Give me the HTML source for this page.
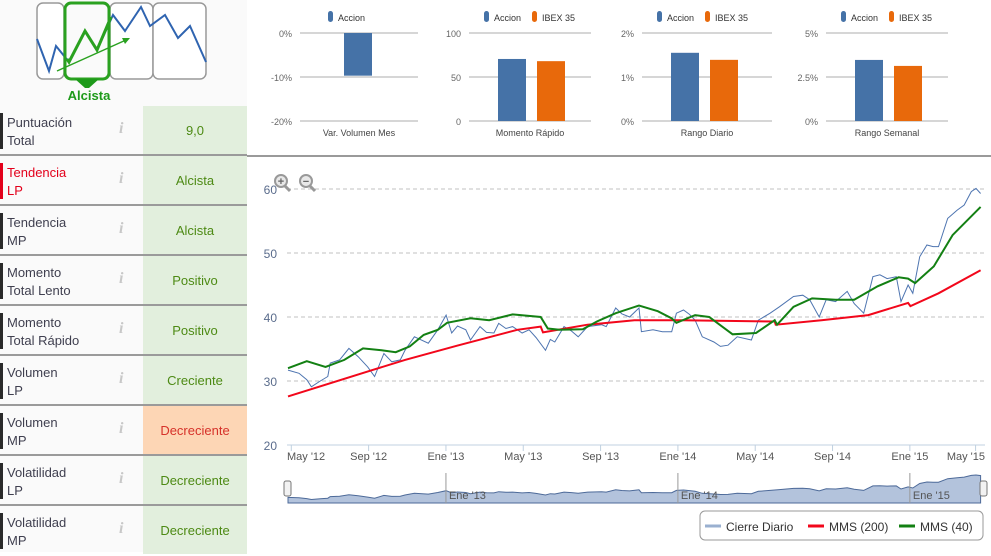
<!DOCTYPE html>
<html><head><meta charset="utf-8">
<style>
body{margin:0;width:991px;height:552px;overflow:hidden;background:#fff;font-family:"Liberation Sans",sans-serif;position:relative}
.abs{position:absolute}
.row{position:absolute;left:0;width:247px;height:50px;border-bottom:2px solid #9a9a9a;box-sizing:border-box}
.lbl{position:absolute;left:7px;top:8px;font-size:13px;line-height:18px;color:#3f3f4f}
.bar{position:absolute;left:0;top:7px;width:3px;height:36px;background:#2a2a2a}
.inf{position:absolute;left:119px;top:14px;font-family:"Liberation Serif",serif;font-style:italic;font-weight:bold;font-size:16px;color:#c8c8c8}
.val{position:absolute;left:143px;top:0;width:104px;height:48px;background:#e2efdd;color:#4d8a14;font-size:13px;text-align:center;line-height:50px}
</style></head><body>
<div class="abs" style="left:0;top:0;width:247px;height:552px;background:#fafafa"></div>
<svg class="abs" style="left:0;top:0" width="247" height="106">
<rect x="37" y="3" width="27" height="76" rx="6" fill="#fff" stroke="#999" stroke-width="1.5"/>
<rect x="110" y="3" width="43" height="76" rx="6" fill="#fff" stroke="#999" stroke-width="1.5"/>
<rect x="153" y="3" width="53" height="76" rx="6" fill="#fff" stroke="#999" stroke-width="1.5"/>
<polyline points="37,39 49,71 56,46 69,62 85,31 97,50 113,15 125,31 141,7 150,26 165,15 178,38 190,26 206,62" fill="none" stroke="#2f64b0" stroke-width="2"/>
<rect x="65" y="3" width="44" height="76" rx="6" fill="none" stroke="#2aa120" stroke-width="3"/>
<polyline points="67,59 69,62 85,31 97,50 111,17" fill="none" stroke="#2aa120" stroke-width="3"/>
<line x1="57" y1="71" x2="126" y2="40" stroke="#2aa120" stroke-width="1.5"/>
<polygon points="130,38 122,38 125,44" fill="#2aa120"/>
<polygon points="75,79 99,79 89,88 85,88" fill="#1e9a1a"/>
<text x="89" y="100" text-anchor="middle" font-size="13" font-weight="bold" fill="#1e9a1a">Alcista</text>
</svg>
<div class="row" style="top:106px"><div class="bar"></div><div class="lbl">Puntuación<br>Total</div><div class="inf">i</div><div class="val">9,0</div></div>
<div class="row" style="top:156px"><div class="bar" style="background:#e3001b"></div><div class="lbl" style="color:#e3001b">Tendencia<br>LP</div><div class="inf">i</div><div class="val">Alcista</div></div>
<div class="row" style="top:206px"><div class="bar"></div><div class="lbl">Tendencia<br>MP</div><div class="inf">i</div><div class="val">Alcista</div></div>
<div class="row" style="top:256px"><div class="bar"></div><div class="lbl">Momento<br>Total Lento</div><div class="inf">i</div><div class="val">Positivo</div></div>
<div class="row" style="top:306px"><div class="bar"></div><div class="lbl">Momento<br>Total Rápido</div><div class="inf">i</div><div class="val">Positivo</div></div>
<div class="row" style="top:356px"><div class="bar"></div><div class="lbl">Volumen<br>LP</div><div class="inf">i</div><div class="val">Creciente</div></div>
<div class="row" style="top:406px"><div class="bar"></div><div class="lbl">Volumen<br>MP</div><div class="inf">i</div><div class="val" style="background:#fdd6b5;color:#d6322a">Decreciente</div></div>
<div class="row" style="top:456px"><div class="bar"></div><div class="lbl">Volatilidad<br>LP</div><div class="inf">i</div><div class="val">Decreciente</div></div>
<div class="row" style="top:506px;border-bottom:none"><div class="bar"></div><div class="lbl">Volatilidad<br>MP</div><div class="inf">i</div><div class="val">Decreciente</div></div>
<div class="abs" style="left:247px;top:155px;width:744px;height:2px;background:#9a9a9a"></div>

<svg id="mini" class="abs" style="left:0;top:0" width="991" height="155"></svg>
<svg id="main" class="abs" style="left:0;top:0" width="991" height="552"></svg>

<script>
// ---- mini chart data ----
const miniTitles=["Var. Volumen Mes","Momento Rápido","Rango Diario","Rango Semanal"];
const miniAccion=[-9.7,70.5,1.55,3.47];
const miniIbex=[null,68,1.39,3.13];
const miniTicks=[["0%","-10%","-20%"],["100","50","0"],["2%","1%","0%"],["5%","2.5%","0%"]];
const miniMax=[0,100,2,5];
const miniMin=[-20,0,0,0];
// ---- main chart data ----
const xTickLabels=["May '12","Sep '12","Ene '13","May '13","Sep '13","Ene '14","May '14","Sep '14","Ene '15","May '15"];
const xTickMonths=[0,4,8,12,16,20,24,28,32,35.4];
const yTicks=[20,30,40,50,60];
const closeT=[-0.17,0.4,0.8,1.04,1.5,1.89,2.01,2.5,2.98,3.46,3.95,4.31,4.79,5.2,5.64,5.88,6.37,7.09,7.58,8.01,8.3,8.6,9.03,9.27,9.76,10.1,10.48,10.73,11.1,11.45,11.94,12.3,12.66,13.15,13.4,13.63,14.11,14.5,14.84,15.33,16.05,16.29,16.78,17.1,17.5,17.99,18.11,18.71,19.2,19.68,19.92,20.29,20.6,20.89,21.26,21.86,22.2,22.59,23.07,23.8,24.16,24.77,25.25,25.98,26.46,26.82,27.31,27.67,28.16,28.76,29.12,29.61,30.09,30.45,30.82,31.3,31.54,31.91,32.15,32.51,32.88,33.2,33.48,33.96,34.45,34.81,35.18,35.42,35.66];
const closeV=[31.7,31.2,30.2,29.1,30.0,30.7,32.8,33.3,35.1,33.8,32.2,30.7,34.3,33.0,33.3,34.8,36.9,35.9,38.0,40.3,37.5,38.6,38.0,36.4,38.5,37.6,37.5,39.0,38.2,38.5,37.5,38.0,36.8,34.8,36.5,36.1,38.5,37.8,36.9,38.5,38.8,38.5,41.4,40.5,40.0,41.4,37.7,38.0,37.7,37.7,40.6,41.1,40.4,39.5,36.9,36.1,35.4,35.6,36.9,36.4,39.5,40.6,41.6,43.2,43.4,42.7,40.0,42.7,42.4,44.0,42.1,40.6,46.3,46.6,46.0,46.3,42.4,45.0,43.7,49.4,51.25,51.0,51.0,55.4,56.7,57.5,59.6,60.1,59.3];
const mms200T=[-0.17,4.19,5.88,8.55,11.69,12.9,13.02,15.33,17.75,20.17,25.01,25.06,27.43,29.85,31.91,32.03,33.48,35.66];
const mms200V=[27.6,31.7,33.3,35.5,38.0,38.5,37.6,38.8,39.5,39.5,39.3,38.8,39.5,40.3,42.2,41.7,43.7,47.3];
const mms40T=[-0.17,0.8,1.77,2.74,3.71,4.67,5.4,6.13,6.85,7.58,8.06,9.27,10.24,11.45,12.9,13.27,13.87,15.08,15.81,16.78,17.99,18.96,19.68,19.92,20.89,21.62,22.83,24.04,25.01,25.13,25.98,26.94,28.16,29.12,30.33,31.42,31.91,32.27,33.24,34.21,35.66];
const mms40V=[32.0,33.1,32.2,33.3,35.1,34.8,34.5,35.4,37.2,38.0,39.1,39.8,39.5,40.4,40.0,38.2,38.0,38.1,39.3,40.6,41.8,40.9,39.8,39.1,40.3,40.0,37.3,37.5,39.5,38.8,41.6,42.9,42.7,42.7,44.8,46.2,46.0,45.3,47.9,52.8,57.2];
const navTicksT=[8,20,32];
const navTickLabels=["Ene '13","Ene '14","Ene '15"];

const NS="http://www.w3.org/2000/svg";
function mk(p,tag,attrs,txt){const e=document.createElementNS(NS,tag);for(const k in attrs)e.setAttribute(k,attrs[k]);if(txt!==undefined)e.textContent=txt;p.appendChild(e);return e;}

// mini charts
const mini=document.getElementById('mini');
const gx=[300,469,642,826], gw=[118,122,130,122];
const BLUE="#4572a7", ORANGE="#e8690b";
for(let i=0;i<4;i++){
  const x0=gx[i], top=33, bot=121;
  const ys=v=>top+(miniMax[i]-v)/(miniMax[i]-miniMin[i])*(bot-top);
  for(let k=0;k<3;k++){
    const y=top+k*(bot-top)/2;
    const l=mk(mini,'line',{x1:x0,x2:x0+gw[i],y1:y,y2:y,stroke:'#c8c8c8','stroke-width':1.5});
    
    
    const t=mk(mini,'text',{x:x0-8,y:y+4,'text-anchor':'end','font-size':9,fill:'#666'},miniTicks[i][k]);
    
    
  }
  const base=ys(Math.max(miniMin[i],Math.min(0,miniMax[i])));
  const single=miniIbex[i]===null;
  const bx=single?x0+44:x0+29;
  const a=ys(miniAccion[i]);
  const b1=mk(mini,'rect',{x:bx,y:Math.min(a,base),width:28,height:Math.abs(base-a),fill:BLUE});
  
  
  if(!single){const o=ys(miniIbex[i]);
    const b2=mk(mini,'rect',{x:bx+39,y:Math.min(o,base),width:28,height:Math.abs(base-o),fill:ORANGE});
    
    }
  const tt=mk(mini,'text',{x:x0+gw[i]/2,y:136,'text-anchor':'middle','font-size':9,fill:'#444'},miniTitles[i]);
  
  
  const lx=single?x0+28:x0+15;
  const lg=mk(mini,'g',{});
  
  
  mk(lg,'rect',{x:lx,y:11,width:5,height:11,rx:2.5,fill:BLUE});
  mk(lg,'text',{x:lx+10,y:21,'font-size':9,fill:'#333'},'Accion');
  if(!single){mk(lg,'rect',{x:lx+48,y:11,width:5,height:11,rx:2.5,fill:ORANGE});
    mk(lg,'text',{x:lx+58,y:21,'font-size':9,fill:'#333'},'IBEX 35');}
}

// main chart
const svg=document.getElementById('main');
const X0=291.3, PXM=19.33, LEFT=287, RIGHT=985;
const xs=t=>X0+t*PXM;
const ys=v=>189+(60-v)*6.4;
yTicks.forEach(v=>{
  if(v>20){const l=mk(svg,'line',{x1:LEFT,x2:RIGHT,y1:ys(v),y2:ys(v),stroke:'#c0c0c0','stroke-dasharray':'4,3'});
  
  }
  const t=mk(svg,'text',{x:277,y:ys(v)+5,'text-anchor':'end','font-size':12,fill:'#5a6c8c'},v);
  
  
});
const ax=mk(svg,'line',{x1:LEFT,x2:RIGHT,y1:445,y2:445,stroke:'#c0d0e0'});


xTickLabels.forEach((lab,i)=>{
  const x=xs(xTickMonths[i]);
  const last=i==xTickLabels.length-1;
  const tk=mk(svg,'line',{x1:x,x2:x,y1:445,y2:451,stroke:'#c0d0e0'});
  
  
  const t=mk(svg,'text',{x:i==0?LEFT:(last?RIGHT:x),y:460,'text-anchor':i==0?'start':(last?'end':'middle'),'font-size':11,fill:'#555'},lab);
  
  
});
function path(T,V,xf,yf){return T.map((t,i)=>(i?'L':'M')+xf(t).toFixed(1)+','+yf(V[i]).toFixed(1)).join(' ');}
const pc=mk(svg,'path',{d:path(closeT,closeV,xs,ys),fill:'none',stroke:'#4d74b0','stroke-width':1});


const pr=mk(svg,'path',{d:path(mms200T,mms200V,xs,ys),fill:'none',stroke:'#f2071b','stroke-width':2});


const pg=mk(svg,'path',{d:path(mms40T,mms40V,xs,ys),fill:'none',stroke:'#138013','stroke-width':2});



// zoom icons
[[281,'+','zoom-in-button'],[306,'−','zoom-out-button']].forEach(([x,s,n])=>{
  const g=mk(svg,'g',{});
  
  
  mk(g,'line',{x1:x+4,y1:186,x2:x+9,y2:191,stroke:'#999','stroke-width':3});
  mk(g,'circle',{cx:x,cy:181,r:6,fill:'#e8e8e8',stroke:'#999','stroke-width':2});
  mk(g,'text',{x:x,y:185,'text-anchor':'middle','font-size':11,'font-weight':'bold',fill:'#666'},s);
});

// navigator
const nys=v=>498-(v-31)*0.79;
const nb=mk(svg,'path',{d:path(closeT,closeV,xs,nys)+` L${xs(closeT[closeT.length-1])},503 L${xs(closeT[0])},503 Z`,fill:'#b3c3dc',stroke:'#4d6a99','stroke-width':1});


navTicksT.forEach((t,i)=>{
  const x=xs(t);
  const l=mk(svg,'line',{x1:x,x2:x,y1:473,y2:503,stroke:'#999'});
  
  
  const tx=mk(svg,'text',{x:x+3,y:499,'font-size':11,fill:'#555'},navTickLabels[i]);
  
  
});
[LEFT-3,980].forEach((x,i)=>{
  const h=mk(svg,'rect',{x:x,y:481,width:7,height:15,rx:2,fill:'#f2f2f2',stroke:'#777'});
  
  
});

// legend
const lg=mk(svg,'g',{});


mk(lg,'rect',{x:700,y:511,width:283,height:29,rx:5,fill:'#fff',stroke:'#999'});
[[705,'#9ab0d0','Cierre Diario'],[808,'#f2071b','MMS (200)'],[899,'#138013','MMS (40)']].forEach(([x,c,t])=>{
  mk(lg,'line',{x1:x,x2:x+16,y1:526,y2:526,stroke:c,'stroke-width':3});
  mk(lg,'text',{x:x+21,y:531,'font-size':12,fill:'#333'},t);
});
</script>
</body></html>
